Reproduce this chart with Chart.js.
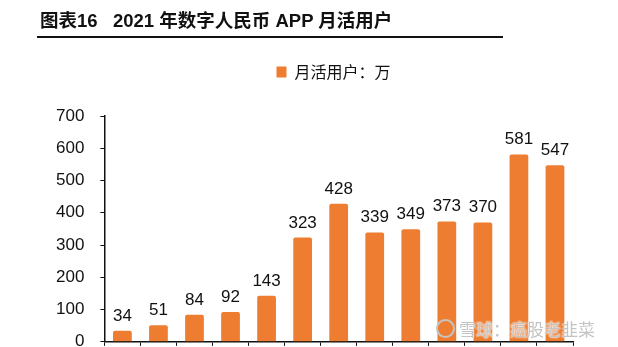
<!DOCTYPE html>
<html>
<head>
<meta charset="utf-8">
<script src="https://cdn.jsdelivr.net/npm/chart.js@4"></script>
<style>
  html, body { margin: 0; padding: 0; background: #fff; }
  body { width: 618px; height: 347px; overflow: hidden; position: relative; }
  #title {
    position: absolute; left: 37px; top: 9px; width: 463px; height: 27px;
    padding-left: 3px; border-bottom: 2px solid #111;
    font: bold 18.5px "Liberation Sans", "Noto Sans CJK SC", sans-serif; color: #111;
    white-space: pre; line-height: 24px;
  }
  #box { position: absolute; left: 0; top: 0; width: 618px; height: 368px; }
  #mark {
    position: absolute; left: 436px; top: 316px;
    font: 17px "Noto Sans CJK SC", sans-serif; color: #c4c4c4;
    text-shadow: 0 0 2px #fff, 0 0 2px #fff; white-space: nowrap;
  }
  #mark .logo {
    display: inline-block; width: 15px; height: 15px; border: 2px solid #c4c4c4;
    border-radius: 50%; vertical-align: -2px; margin-right: 4px;
  }
</style>
</head>
<body>
<div id="box"><canvas id="chart"></canvas></div>
<div id="title">图表16   2021 年数字人民币 APP 月活用户</div>
<div id="mark"><span class="logo"></span>雪球：癌股老韭菜</div>
<script>
const months = ['2020-12', '2021-01', '2021-02', '2021-03', '2021-04', '2021-05', '2021-06',
                '2021-07', '2021-08', '2021-09', '2021-10', '2021-11', '2021-12'];
const activeUsers = [34, 51, 84, 92, 143, 323, 428, 339, 349, 373, 370, 581, 547];
const yTicks = [0, 100, 200, 300, 400, 500, 600, 700];

const ORANGE = '#ee7d31';
const INK = '#111';

// value printed above each bar
const barValues = {
  id: 'barValues',
  afterDatasetsDraw(chart) {
    const ctx = chart.ctx;
    const meta = chart.getDatasetMeta(0);
    const values = chart.data.datasets[0].data;
    ctx.save();
    ctx.font = '17px "Liberation Sans", Arial, sans-serif';
    ctx.fillStyle = INK;
    ctx.textAlign = 'center';
    ctx.textBaseline = 'alphabetic';
    meta.data.forEach((bar, i) => {
      ctx.fillText(values[i], bar.x, bar.y - 10);
    });
    ctx.restore();
  }
};

// extra room under the legend, and nudge it right of the padded box centre
const legendSpacing = {
  id: 'legendSpacing',
  beforeInit(chart) {
    const fit = chart.legend.fit;
    chart.legend.fit = function () {
      fit.call(this);
      this.height += 26;
    };
  },
  afterLayout(chart) {
    chart.legend.left += 27;
    chart.legend.right += 27;
  }
};

new Chart(document.getElementById('chart'), {
  type: 'bar',
  data: {
    labels: months,
    datasets: [{
      label: '月活用户：万',
      data: activeUsers,
      backgroundColor: ORANGE,
      borderRadius: 2,
      borderSkipped: 'bottom',
      barPercentage: 0.52,
      categoryPercentage: 1
    }]
  },
  options: {
    responsive: true,
    maintainAspectRatio: false,
    animation: false,
    layout: { padding: { top: 54, left: 40, right: 45, bottom: 0 } },
    plugins: {
      legend: {
        position: 'top',
        labels: {
          boxWidth: 10,
          boxHeight: 11,
          color: INK,
          font: { size: 16, family: '"Noto Sans CJK SC", sans-serif' }
        }
      },
      tooltip: { enabled: false }
    },
    scales: {
      x: {
        grid: { drawOnChartArea: false, drawTicks: true, tickLength: 4, color: INK, offset: true },
        border: { color: INK, width: 1.5 },
        ticks: { display: false }
      },
      y: {
        min: 0,
        max: 700,
        afterBuildTicks: axis => { axis.ticks = yTicks.map(v => ({ value: v })); },
        grid: { drawOnChartArea: false, drawTicks: true, tickLength: 4, color: INK },
        border: { color: INK, width: 1.5 },
        ticks: {
          padding: 16,
          color: INK,
          font: { size: 17, family: '"Liberation Sans", Arial, sans-serif' }
        }
      }
    }
  },
  plugins: [barValues, legendSpacing]
});
</script>
</body>
</html>
